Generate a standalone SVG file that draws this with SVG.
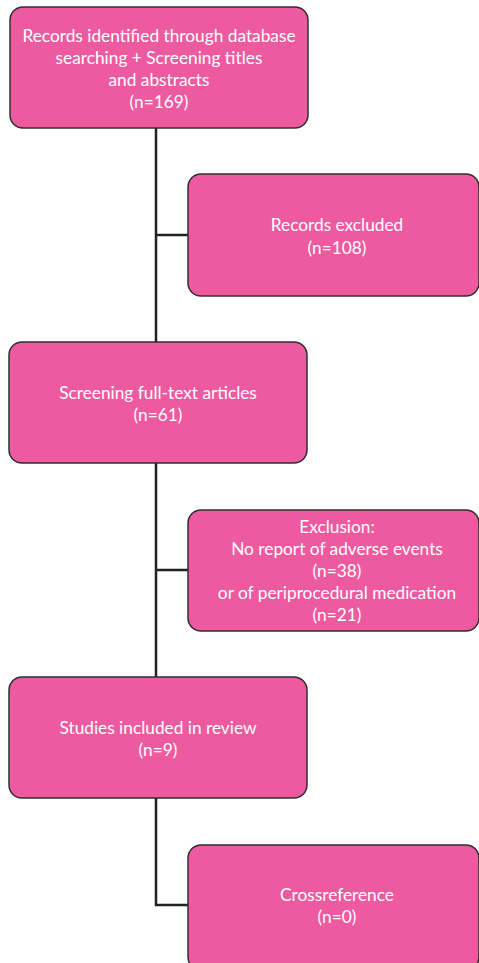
<svg xmlns="http://www.w3.org/2000/svg" width="479" height="963" viewBox="0 0 479 963">
<style>
.box{fill:#EE5A9F;stroke:#2f2f2f;stroke-width:1.5}
.t{font-family:Lato,"Open Sans",sans-serif;font-size:17.3px;fill:#ffffff;text-anchor:middle}
.c{fill:none;stroke:#222;stroke-width:2.5}
</style>
<rect width="479" height="963" fill="#ffffff"/>
<g id="connectors">
<path class="c" d="M156 128V342M156 235H188"/>
<path class="c" d="M156 463V677M156 570H188"/>
<path class="c" d="M156 798V905H188"/>
</g>
<g id="n1">
<rect class="box" x="10" y="7" width="298" height="121" rx="13"/>
<text class="t" x="159" y="42">Records identified through database</text>
<text class="t" x="159" y="64">searching + Screening titles</text>
<text class="t" x="159" y="86">and abstracts</text>
<text class="t" x="159" y="108">(n=169)</text>
</g>
<g id="n2">
<rect class="box" x="188" y="174" width="291" height="122" rx="13"/>
<text class="t" x="337" y="231">Records excluded</text>
<text class="t" x="337" y="254">(n=108)</text>
</g>
<g id="n3">
<rect class="box" x="9" y="342" width="298" height="121" rx="13"/>
<text class="t" x="158" y="399">Screening full-text articles</text>
<text class="t" x="158" y="421">(n=61)</text>
</g>
<g id="n4">
<rect class="box" x="188" y="510" width="291" height="121" rx="13"/>
<text class="t" x="337" y="533">Exclusion:</text>
<text class="t" x="337" y="555">No report of adverse events</text>
<text class="t" x="337" y="577">(n=38)</text>
<text class="t" x="337" y="599">or of periprocedural medication</text>
<text class="t" x="337" y="621">(n=21)</text>
</g>
<g id="n5">
<rect class="box" x="9" y="677" width="298" height="121" rx="13"/>
<text class="t" x="158" y="734">Studies included in review</text>
<text class="t" x="158" y="756">(n=9)</text>
</g>
<g id="n6">
<rect class="box" x="188" y="845" width="291" height="125" rx="13"/>
<text class="t" x="337" y="901">Crossreference</text>
<text class="t" x="337" y="923">(n=0)</text>
</g>
</svg>
